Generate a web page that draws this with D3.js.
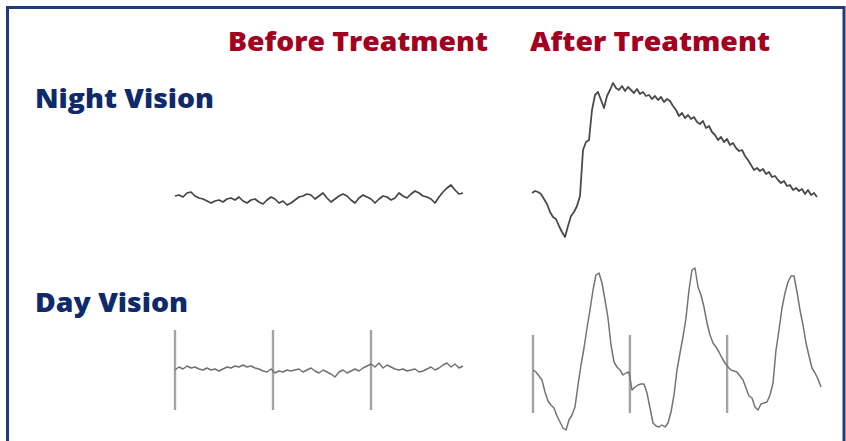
<!DOCTYPE html>
<meta charset="utf-8">
<script src="https://d3js.org/d3.v7.min.js"></script>
<style>
    body { margin: 0; background: #fff; }
    svg { display: block; }
</style>
<div id="chart"></div>
<script>
    // column and row titles
    var columns = ["Before Treatment", "After Treatment"];
    var rows = ["Night Vision", "Day Vision"];

    // recorded responses (amplitude, arbitrary units, evenly spaced samples)
    var nightBefore = [4, 5, 3, 7, 8, 4, 2, 1, -1, -3, -1, 0, -2, 1, 2, 0, 3, -1, -3, 0, 1, -2, -4, 0, 3, 1, -3, -1, -5, -3,
        0, 3, 4, 6, 5, 1, 4, 7, 2, -2, 1, 4, 6, 4, 0, -3, 2, 5, 3, 1, -3, 1, 4, 3, 0, 2, 7, 4, 2, 6,
        9, 7, 4, 3, 1, -3, 3, 8, 12, 15, 10, 6, 7];
    var nightAfter = [7, 9, 8, 6, 1, -4, -12, -17, -19, -26, -32, -37, -26, -16, -12, -6, 4, 50, 58, 60,
        90, 105, 108, 100, 92, 104, 110, 117, 112, 110, 114, 109, 113, 110, 107, 111, 106, 108, 104, 105,
        101, 104, 100, 103, 98, 101, 99, 94, 90, 84, 87, 82, 85, 81, 83, 78, 76, 79, 72, 74,
        68, 65, 60, 63, 58, 61, 55, 57, 52, 49, 50, 44, 40, 35, 30, 32, 29, 31, 26, 28,
        23, 24, 20, 17, 19, 14, 15, 10, 12, 9, 11, 6, 10, 5, 7, 3];
    var dayBefore = [5, 8, 6, 9, 7, 8, 6, 5, 7, 5, 6, 4, 6, 8, 7, 9, 8, 10, 8, 9, 7, 6, 4, 3, 6, 2, 4, 3, 5, 4,
        5, 6, 3, 5, 7, 4, 2, 5, 3, 1, -2, 3, 5, 2, 4, 6, 4, 7, 9, 11, 8, 12, 7, 10, 8, 6, 5, 6, 4, 5,
        6, 3, 4, 6, 8, 5, 7, 10, 12, 8, 11, 7, 9];
    var dayAfter = [5, 3, -1, -5, -17, -26, -30, -33, -41, -47, -53, -55, -45, -40, -32, -10, 10, 27, 47, 65,
        85, 100, 102, 92, 75, 57, 30, 13, 8, 5, 0, 2, 3, -15, -12, -10, -9, -9, -18, -33,
        -48, -51, -52, -50, -52, -48, -37, -20, 5, 22, 38, 57, 85, 105, 107, 88, 80, 68, 52, 40,
        32, 28, 23, 17, 12, 8, 5, 4, 3, -1, -5, -13, -21, -23, -32, -35, -29, -28, -27, -20,
        -8, 25, 45, 67, 82, 93, 99, 99, 83, 65, 50, 32, 19, 7, 2, -4, -12];

    // flash stimulus times (sample index) and marker extent (amplitude)
    var flashBefore = [0, 24.5, 49];
    var flashAfter = [0, 32.3, 64.7];
    var flashSpanBefore = [-35, 45];
    var flashSpanAfter = [-38, 40];

    var W = 846, H = 441;

    var svg = d3.select("#chart")
        .append("svg")
        .attr("width", W)
        .attr("height", H);

    // frame
    svg.append("rect")
        .attr("x", 7.5)
        .attr("y", 7.5)
        .attr("width", 836.5)
        .attr("height", 480)
        .attr("fill", "none")
        .attr("stroke", "#1e3b7b")
        .attr("stroke-width", 3);

    // titles
    var colX = [228, 530], colW = [260, 240];
    svg.selectAll(".col-title")
        .data(columns)
        .enter()
        .append("text")
        .attr("x", function (d, i) { return colX[i]; })
        .attr("y", 51)
        .attr("textLength", function (d, i) { return colW[i]; })
        .attr("lengthAdjust", "spacingAndGlyphs")
        .style("font-family", "'Open Sans', 'DejaVu Sans', sans-serif")
        .style("font-weight", 800)
        .style("font-size", "27px")
        .style("fill", "#a3001f")
        .text(function (d) { return d; });

    var rowY = [108, 312], rowW = [179, 153];
    svg.selectAll(".row-title")
        .data(rows)
        .enter()
        .append("text")
        .attr("x", 35)
        .attr("y", function (d, i) { return rowY[i]; })
        .attr("textLength", function (d, i) { return rowW[i]; })
        .attr("lengthAdjust", "spacingAndGlyphs")
        .style("font-family", "'Open Sans', 'DejaVu Sans', sans-serif")
        .style("font-weight", 800)
        .style("font-size", "27px")
        .style("fill", "#0e2a6a")
        .text(function (d) { return d; });

    // scales: one amplitude scale per row, one time scale per panel
    var yNight = d3.scaleLinear().domain([-40, 120]).range([240, 80]);
    var yDay = d3.scaleLinear().domain([-60, 110]).range([435, 265]);

    var panels = [
        { data: nightBefore, x0: 175, x1: 463, y: yNight, color: "#444", width: 1.7 },
        { data: nightAfter, x0: 532, x1: 817, y: yNight, color: "#4a4a4a", width: 1.8 },
        { data: dayBefore, x0: 175, x1: 463, y: yDay, color: "#707070", width: 1.4, flash: flashBefore, span: flashSpanBefore },
        { data: dayAfter, x0: 533, x1: 821, y: yDay, color: "#747474", width: 1.5, flash: flashAfter, span: flashSpanAfter }
    ];

    panels.forEach(function (p) {
        var x = d3.scaleLinear()
            .domain([0, p.data.length - 1])
            .range([p.x0, p.x1]);

        if (p.flash) {
            svg.selectAll(null)
                .data(p.flash)
                .enter()
                .append("line")
                .attr("x1", function (d) { return x(d); })
                .attr("x2", function (d) { return x(d); })
                .attr("y1", p.y(p.span[1]))
                .attr("y2", p.y(p.span[0]))
                .attr("stroke", "#a3a3a3")
                .attr("stroke-width", 2.4);
        }

        var line = d3.line()
            .x(function (d, i) { return x(i); })
            .y(function (d) { return p.y(d); });

        svg.append("path")
            .datum(p.data)
            .attr("d", line)
            .attr("fill", "none")
            .attr("stroke", p.color)
            .attr("stroke-width", p.width)
            .attr("stroke-linejoin", "round");
    });
</script>
